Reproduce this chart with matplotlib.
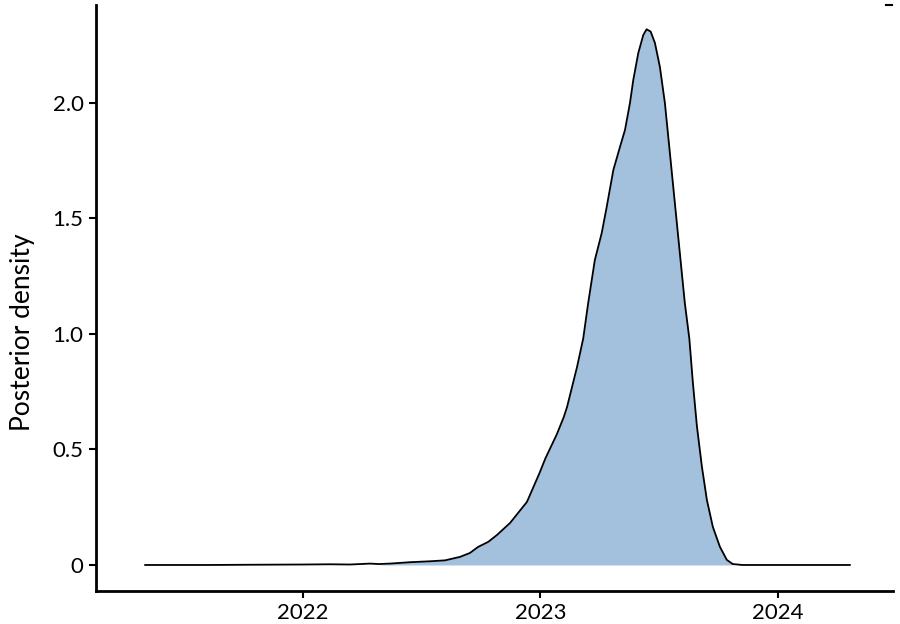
import matplotlib.pyplot as plt
from matplotlib.lines import Line2D
import numpy as np

# posterior density of the root date
years = [2021.335, 2021.6, 2021.777, 2022.0, 2022.114, 2022.198, 2022.282,
         2022.32, 2022.366, 2022.451, 2022.535, 2022.598, 2022.661, 2022.703,
         2022.737, 2022.78, 2022.817, 2022.872, 2022.943, 2022.996, 2023.021,
         2023.069, 2023.098, 2023.112, 2023.154, 2023.180, 2023.201, 2023.229,
         2023.258, 2023.279, 2023.307, 2023.335, 2023.356, 2023.377, 2023.391,
         2023.412, 2023.433, 2023.447, 2023.464, 2023.482, 2023.503, 2023.524,
         2023.545, 2023.566, 2023.587, 2023.608, 2023.627, 2023.642, 2023.659,
         2023.680, 2023.701, 2023.726, 2023.756, 2023.785, 2023.81, 2023.85,
         2024.0, 2024.303]
density = [0.0, 0.0, 0.001, 0.002, 0.003, 0.002, 0.006,
           0.004, 0.006, 0.012, 0.016, 0.02, 0.035, 0.052,
           0.078, 0.1, 0.13, 0.182, 0.273, 0.398, 0.462,
           0.566, 0.640, 0.684, 0.857, 0.98, 1.134, 1.32,
           1.437, 1.55, 1.71, 1.81, 1.883, 2.0, 2.10,
           2.216, 2.294, 2.319, 2.309, 2.26, 2.156, 2.0,
           1.784, 1.567, 1.35, 1.134, 0.98, 0.788, 0.6,
           0.425, 0.281, 0.165, 0.078, 0.022, 0.004, 0.0,
           0.0, 0.0]
hpd_low, hpd_high = 2022.354, 2023.80

years = np.array(years)
density = np.array(density)

plt.rcParams['font.family'] = ['Lato', 'DejaVu Sans']

fig = plt.figure(figsize=(9, 6.24), dpi=100)
ax = fig.add_axes([0.1067, 0.0529, 0.8853, 0.9391])

inside = (years >= hpd_low) & (years <= hpd_high)
ax.fill_between(years, 0, density, where=inside, color='#a3c1dc',
                linewidth=0, interpolate=True)
ax.plot(years, density, color='black', linewidth=1.3, solid_joinstyle='round')

ax.set_xlim(2021.128, 2024.484)
ax.set_ylim(-0.1126, 2.424)
ax.set_xticks([2022, 2023, 2024])
ax.set_yticks([0, 0.5, 1.0, 1.5, 2.0])
ax.set_yticklabels(['0', '0.5', '1.0', '1.5', '2.0'])
ax.set_ylabel('Posterior density', fontsize=19)
ax.yaxis.set_label_coords(-0.076, 0.442)

for side in ['top', 'right']:
    ax.spines[side].set_visible(False)
for side in ['left', 'bottom']:
    ax.spines[side].set_linewidth(2)
ax.tick_params(axis='both', direction='out', length=5, width=1.5,
               labelsize=16, pad=4)

# small stray dash at the top right corner of the original
fig.add_artist(Line2D([886 / 900, 892 / 900], [1 - 5 / 624, 1 - 5 / 624],
                      color='black', linewidth=1.5))

fig.savefig('out.png', dpi=100)
